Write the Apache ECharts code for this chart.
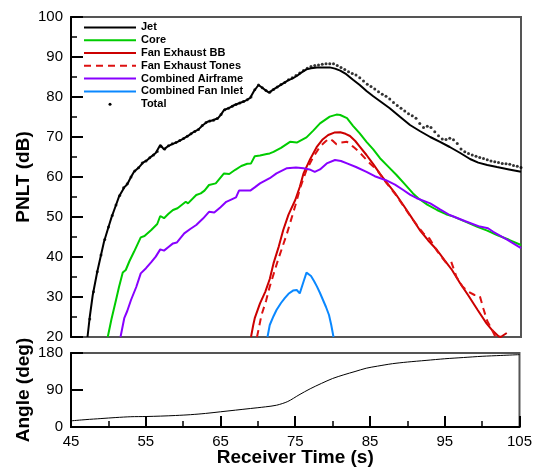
<!DOCTYPE html>
<html>
<head>
<meta charset="utf-8">
<script src="https://cdn.jsdelivr.net/npm/echarts@6/dist/echarts.min.js"></script>
<style>
  html, body { margin: 0; padding: 0; background: #fff; }
  #chart { width: 535px; height: 468px; }
</style>
</head>
<body>
<div id="chart"></div>
<script>
// [receiver time (s), PNLT (dB)]
var jet = [
  [47.2, 20], [47.5, 25], [47.9, 30.5], [48.5, 36.3], [49.0, 40.5], [49.4, 43.8], [50.0, 47.5],
  [50.4, 49.9], [51.0, 53], [51.4, 55.1], [52.1, 57.4], [52.5, 58.2], [53.0, 60], [53.4, 61.3],
  [54.0, 62.3], [54.6, 63.6], [55.2, 64.3], [55.7, 65.1], [56.3, 66.0], [56.9, 68.0], [57.4, 66.9],
  [58.0, 67.8], [58.6, 68.3], [59.2, 68.8], [60.0, 69.6], [60.7, 70.4], [61.4, 71.3], [62.0, 71.9],
  [62.6, 73.0], [63.2, 73.8], [63.9, 74.2], [64.6, 74.7], [65.0, 75.6], [65.4, 76.75], [66.1, 77.3],
  [66.8, 78], [67.5, 78.5], [68.2, 79.0], [68.9, 79.8], [69.4, 81.5], [70.0, 83], [70.5, 82.3],
  [71.0, 81.6], [71.4, 81.1], [72.0, 81.9], [72.6, 82.6], [73.3, 83.4], [74.0, 84.2], [74.5, 84.6],
  [75.1, 85.25], [75.7, 86.1], [76.4, 86.9], [77.0, 87.2], [77.8, 87.4], [78.5, 87.4], [79.5, 87.4],
  [80.2, 87.1], [80.9, 86.6], [81.7, 85.7], [82.6, 84.3], [83.5, 83.0], [84.4, 81.5], [85.3, 80.2],
  [86.4, 78.7], [87.5, 77.2], [88.9, 75.0], [90.2, 73.0], [91.5, 71.5], [92.9, 70.0], [94.2, 68.8],
  [95.5, 67.5], [96.9, 66.0], [98.2, 64.5], [99.3, 63.6], [100.5, 63.0], [101.8, 62.5], [103.4, 61.9],
  [105, 61.3]
];

var core = [
  [49.9, 20], [50.4, 24.5], [51.0, 29.25], [51.4, 32.5], [51.9, 36.1], [52.3, 36.75], [52.8, 39.0],
  [53.4, 41.3], [54.3, 44.9], [54.8, 45.25], [55.7, 46.75], [56.5, 48.25], [56.9, 50.25], [57.4, 49.7],
  [58.0, 50.8], [58.6, 51.75], [59.2, 52.2], [60.3, 53.8], [60.6, 53.4], [61.7, 55.5], [62.3, 55.9],
  [62.8, 56.6], [63.4, 58.0], [64.3, 58.4], [65.4, 60.9], [66.1, 60.75], [66.9, 61.8], [67.7, 62.75],
  [68.5, 63.3], [69.0, 63.4], [69.5, 65.2], [70.2, 65.4], [71.1, 65.75], [71.5, 65.9], [72.0, 66.3],
  [73.0, 67.3], [74.2, 68.8], [75.1, 68.6], [76.4, 69.9], [77.3, 71.6], [78.2, 73.4], [79.5, 75.1],
  [80.4, 75.6], [80.9, 75.5], [81.8, 74.7], [82.6, 72.8], [83.5, 70.9], [84.4, 68.8], [85.3, 66.9],
  [86.2, 64.7], [87.3, 62.6], [88.4, 60.5], [89.5, 58.2], [90.6, 55.9], [91.3, 54.7], [92.5, 53.1],
  [93.8, 51.75], [95.0, 50.7], [96.0, 50.1], [97.5, 48.9], [99.1, 47.6], [100.5, 46.6], [101.8, 45.5],
  [103.4, 44.3], [105, 43.0]
];

var fanBB = [
  [69.0, 20], [69.3, 23], [69.5, 24.7], [70.2, 28.4], [70.9, 31.3], [71.5, 34.5], [72.0, 38.4],
  [72.7, 42.6], [73.3, 46.75], [74.0, 50.6], [74.9, 54.25], [75.5, 57.5], [76.0, 60.9], [76.9, 64.5],
  [77.8, 67.6], [78.5, 69.3], [79.3, 70.5], [80.1, 71.1], [80.9, 71.2], [81.6, 70.8], [82.2, 70.25],
  [82.9, 69.0], [83.5, 67.6], [84.4, 65.5], [85.3, 63.2], [86.2, 60.8], [87.1, 58.6], [88.2, 56.0],
  [89.3, 53.0], [90.4, 49.9], [91.5, 46.75], [92.6, 44.2], [93.8, 41.75], [94.8, 39.2], [95.8, 36.75],
  [96.9, 33.4], [98.0, 30.3], [99.2, 26.8], [100.4, 23.4], [101.2, 21.6], [102.0, 20.2], [102.3, 20.0],
  [102.7, 20.5], [103.1, 21.0]
];

var fanTones = [
  [69.8, 20], [70.4, 25.5], [71.0, 29.0], [71.5, 32.6], [72.6, 39.25], [73.8, 45.9], [74.9, 52.8],
  [75.6, 57.5], [76.4, 61.75], [77.3, 65.0], [78.2, 67.6], [79.0, 69.0], [79.5, 69.6], [80.0, 68.9],
  [80.4, 68.2], [81.0, 68.6], [81.8, 68.8], [82.6, 67.6], [83.3, 66.5], [84.0, 65.1], [84.9, 63.3],
  [85.8, 61.75], [87.1, 58.4], [88.2, 55.8], [89.3, 52.8], [90.4, 49.8], [91.2, 47.8], [92.0, 45.9],
  [92.8, 44.6], [93.8, 41.5], [95.0, 38.6], [95.7, 38.8], [96.4, 35.0], [97.2, 32.6], [98.0, 31.3],
  [98.8, 30.5], [99.5, 30.3], [100.0, 27.0], [100.5, 24.0], [101.0, 22.3], [101.6, 20]
];

var airframe = [
  [51.6, 20], [52.1, 24.7], [52.5, 26.5], [53.0, 29.25], [53.7, 32.5], [54.3, 35.9], [55.0, 37.2],
  [55.7, 38.7], [56.3, 40.1], [56.9, 41.9], [57.4, 41.6], [58.0, 42.5], [58.6, 43.4], [59.1, 43.6],
  [60.1, 45.9], [60.9, 47.0], [61.7, 48.0], [62.6, 49.6], [63.4, 51.3], [64.1, 51.1], [64.9, 52.4],
  [65.7, 53.8], [67.0, 54.9], [67.4, 56.6], [68.9, 56.6], [69.5, 57.4], [70.2, 58.4], [71.5, 59.7],
  [72.4, 60.9], [73.8, 62.2], [75.0, 62.4], [76.0, 62.2], [76.8, 61.9], [77.5, 61.3], [78.2, 61.9],
  [79.1, 63.4], [80.2, 64.25], [81.0, 64.0], [81.8, 63.4], [83.0, 62.5], [84.4, 61.3], [85.5, 60.2],
  [87.0, 59.2], [88.2, 58.1], [89.3, 56.75], [90.2, 55.6], [91.1, 54.7], [92.9, 53.4], [94.2, 51.9],
  [95.5, 50.5], [97.5, 49.0], [99.5, 47.6], [100.6, 47.2], [101.3, 46.3], [103.2, 44.3], [105, 42.2]
];

var fanInlet = [
  [71.2, 20], [71.5, 23], [72.0, 25.2], [72.4, 26.75], [73.0, 28.5], [73.5, 29.7], [74.0, 30.8],
  [74.6, 31.6], [75.1, 31.75], [75.5, 30.9], [76.0, 33.8], [76.4, 36.1], [77.0, 35.25], [77.4, 34.0],
  [77.8, 32.6], [78.2, 31.0], [78.6, 29.25], [79.0, 27.5], [79.4, 25.5], [79.7, 23], [80.0, 20]
];

var total = [
  [47.5, 24.5], [48.0, 31.3], [48.5, 36.3], [49.0, 40.5], [49.5, 44.4], [50.0, 47.5], [50.5, 50.4],
  [51.0, 53.0], [51.5, 55.4], [52.0, 57.3], [52.5, 58.3], [53.0, 60.0], [53.5, 61.5], [54.0, 62.3],
  [54.5, 63.5], [55.0, 64.0], [55.5, 64.8], [56.0, 65.5], [56.5, 66.4], [57.0, 67.6], [57.5, 67.0],
  [58.0, 67.8], [58.5, 68.3], [59.0, 68.6], [59.5, 69.1], [60.0, 69.6], [60.5, 70.2], [61.0, 70.8],
  [61.5, 71.4], [62.0, 71.9], [62.5, 72.9], [63.0, 73.6], [63.5, 74.0], [64.0, 74.2], [64.5, 74.6],
  [65.0, 75.6], [65.5, 76.8], [66.0, 77.2], [66.5, 77.7], [67.0, 78.1], [67.5, 78.5], [68.0, 78.9],
  [68.5, 79.3], [69.0, 80.0], [69.5, 81.8], [70.0, 83.0], [70.5, 82.3], [71.0, 81.6], [71.5, 81.2],
  [72.0, 81.9], [72.5, 82.5], [73.0, 83.1], [73.5, 83.6], [74.0, 84.3], [74.5, 84.8], [75.0, 85.4],
  [75.5, 86.0], [76.0, 86.6], [76.5, 87.2], [77.0, 87.6], [77.5, 87.9], [78.0, 88.0], [78.5, 88.2],
  [79.0, 88.3], [79.5, 88.3], [80.0, 88.3], [80.5, 87.9], [81.0, 87.4], [81.5, 86.9], [82.0, 86.3],
  [82.5, 85.9], [83.0, 85.5], [83.5, 84.8], [84.0, 84.0], [84.5, 83.2], [85.0, 82.6], [85.5, 82.0],
  [86.0, 81.3], [86.5, 80.7], [87.0, 80.2], [87.5, 79.5], [88.0, 78.6], [88.5, 77.9], [89.0, 77.2],
  [89.5, 76.5], [90.0, 75.8], [90.5, 75.3], [91.0, 74.7], [91.5, 73.4], [92.0, 72.4], [92.5, 72.7],
  [93.0, 72.4], [93.5, 71.3], [94.0, 70.3], [94.5, 69.5], [95.0, 69.4], [95.5, 69.7], [96.0, 69.3],
  [96.5, 68.4], [97.0, 67.0], [97.5, 66.3], [98.0, 65.9], [98.5, 65.5], [99.0, 65.2], [99.5, 64.9],
  [100.0, 64.6], [100.5, 64.3], [101.0, 64.0], [101.5, 63.8], [102.0, 63.6], [102.5, 63.4], [103.0, 63.3],
  [103.5, 63.2], [104.0, 62.9], [104.5, 62.7], [105.0, 62.4]
];

// [receiver time (s), angle (deg)]
var angle = [
  [45.0, 15], [47.0, 18], [49.0, 20.5], [51.0, 23], [53.0, 25], [55.0, 25.5], [57.0, 26.5],
  [59.0, 28], [61.0, 30], [63.0, 33], [65.0, 37], [67.0, 41], [69.0, 45], [71.0, 49],
  [72.5, 53], [74.0, 62], [75.5, 78], [77.0, 93], [78.5, 106], [80.0, 118], [81.5, 127],
  [83.0, 135], [84.5, 143], [86.0, 148], [88.0, 154], [90.0, 158], [92.5, 162], [95.0, 166],
  [97.5, 169], [100.0, 172], [102.5, 174], [105.0, 176]
];

var FONT = "'Liberation Sans', Arial, sans-serif";

var chartInstance = echarts.init(document.getElementById("chart"), null, { renderer: "canvas" });

function lineSeries(name, data, color, dashed) {
  return {
    name: name,
    type: "line",
    xAxisIndex: 0,
    yAxisIndex: 0,
    data: data,
    symbol: "none",
    showSymbol: false,
    lineStyle: { color: color, width: 2, type: dashed ? [7, 5] : "solid" },
    itemStyle: { color: color },
  };
}

var tickStyle = { color: "#000", width: 2 };
var titleStyle = { fontFamily: FONT, fontSize: 19, fontWeight: "bold", color: "#000" };
var labelStyle = { fontFamily: FONT, fontSize: 15, color: "#000", margin: 8 };

const option = {
  animation: false,
  backgroundColor: "#fff",
  legend: {
    orient: "vertical",
    left: 83,
    top: 21,
    padding: 0,
    itemGap: 0,
    itemWidth: 52,
    itemHeight: 3,
    // line icons would otherwise get a dot in the middle
    itemStyle: { opacity: 0 },
    textStyle: { fontFamily: FONT, fontSize: 11, fontWeight: "bold", color: "#000", lineHeight: 12.8 },
    data: [
      "Jet",
      "Core",
      "Fan Exhaust BB",
      "Fan Exhaust Tones",
      "Combined Airframe",
      "Combined Fan Inlet",
      { name: "Total", icon: "circle", itemStyle: { opacity: 1, color: "#000" } },
    ],
  },
  grid: [
    { left: 71, top: 17, width: 450, height: 320, show: true, borderColor: "#555", borderWidth: 2 },
    { left: 71, top: 353, width: 450, height: 74, show: true, borderColor: "#555", borderWidth: 2 },
  ],
  xAxis: [
    {
      gridIndex: 0,
      type: "value",
      min: 45,
      max: 105,
      interval: 10,
      axisLine: { show: false },
      axisTick: { show: false },
      axisLabel: { show: false },
      splitLine: { show: false },
    },
    {
      gridIndex: 1,
      type: "value",
      min: 45,
      max: 105,
      interval: 10,
      name: "Receiver Time (s)",
      nameLocation: "middle",
      nameGap: 21,
      nameMoveOverlap: false,
      nameTextStyle: titleStyle,
      axisLine: { lineStyle: { color: "#000", width: 2 } },
      axisTick: { inside: true, length: 11, lineStyle: tickStyle },
      minorTick: { show: true, splitNumber: 2, length: 6, lineStyle: { color: "#000", width: 1.5 } },
      axisLabel: { fontFamily: FONT, fontSize: 15, color: "#000", margin: 7 },
      splitLine: { show: false },
    },
  ],
  yAxis: [
    {
      gridIndex: 0,
      type: "value",
      min: 20,
      max: 100,
      interval: 10,
      name: "PNLT (dB)",
      nameLocation: "middle",
      nameGap: 38,
      nameMoveOverlap: false,
      nameTextStyle: titleStyle,
      axisLine: { show: true, lineStyle: { color: "#000", width: 2 } },
      axisTick: { inside: true, length: 12, lineStyle: tickStyle },
      minorTick: { show: true, splitNumber: 2, length: 6, lineStyle: { color: "#000", width: 1.5 } },
      axisLabel: labelStyle,
      splitLine: { show: false },
    },
    {
      gridIndex: 1,
      type: "value",
      min: 0,
      max: 180,
      interval: 90,
      name: "Angle (deg)",
      nameLocation: "middle",
      nameGap: 38,
      nameMoveOverlap: false,
      nameTextStyle: titleStyle,
      axisLine: { show: true, lineStyle: { color: "#000", width: 2 } },
      axisTick: { inside: true, length: 12, lineStyle: tickStyle },
      axisLabel: labelStyle,
      splitLine: { show: false },
    },
  ],
  series: [
    lineSeries("Jet", jet, "#000000", false),
    lineSeries("Core", core, "#00cc00", false),
    lineSeries("Fan Exhaust BB", fanBB, "#cc0000", false),
    lineSeries("Fan Exhaust Tones", fanTones, "#dd1111", true),
    lineSeries("Combined Airframe", airframe, "#8800ff", false),
    lineSeries("Combined Fan Inlet", fanInlet, "#0a88ff", false),
    {
      name: "Total",
      type: "scatter",
      xAxisIndex: 0,
      yAxisIndex: 0,
      data: total,
      symbol: "circle",
      symbolSize: 3,
      itemStyle: { color: "#000" },
      z: 5,
    },
    {
      name: "Angle",
      type: "line",
      xAxisIndex: 1,
      yAxisIndex: 1,
      data: angle,
      symbol: "none",
      smooth: 0.3,
      lineStyle: { color: "#000", width: 1 },
    },
  ],
};

chartInstance.setOption(option);
</script>
</body>
</html>
